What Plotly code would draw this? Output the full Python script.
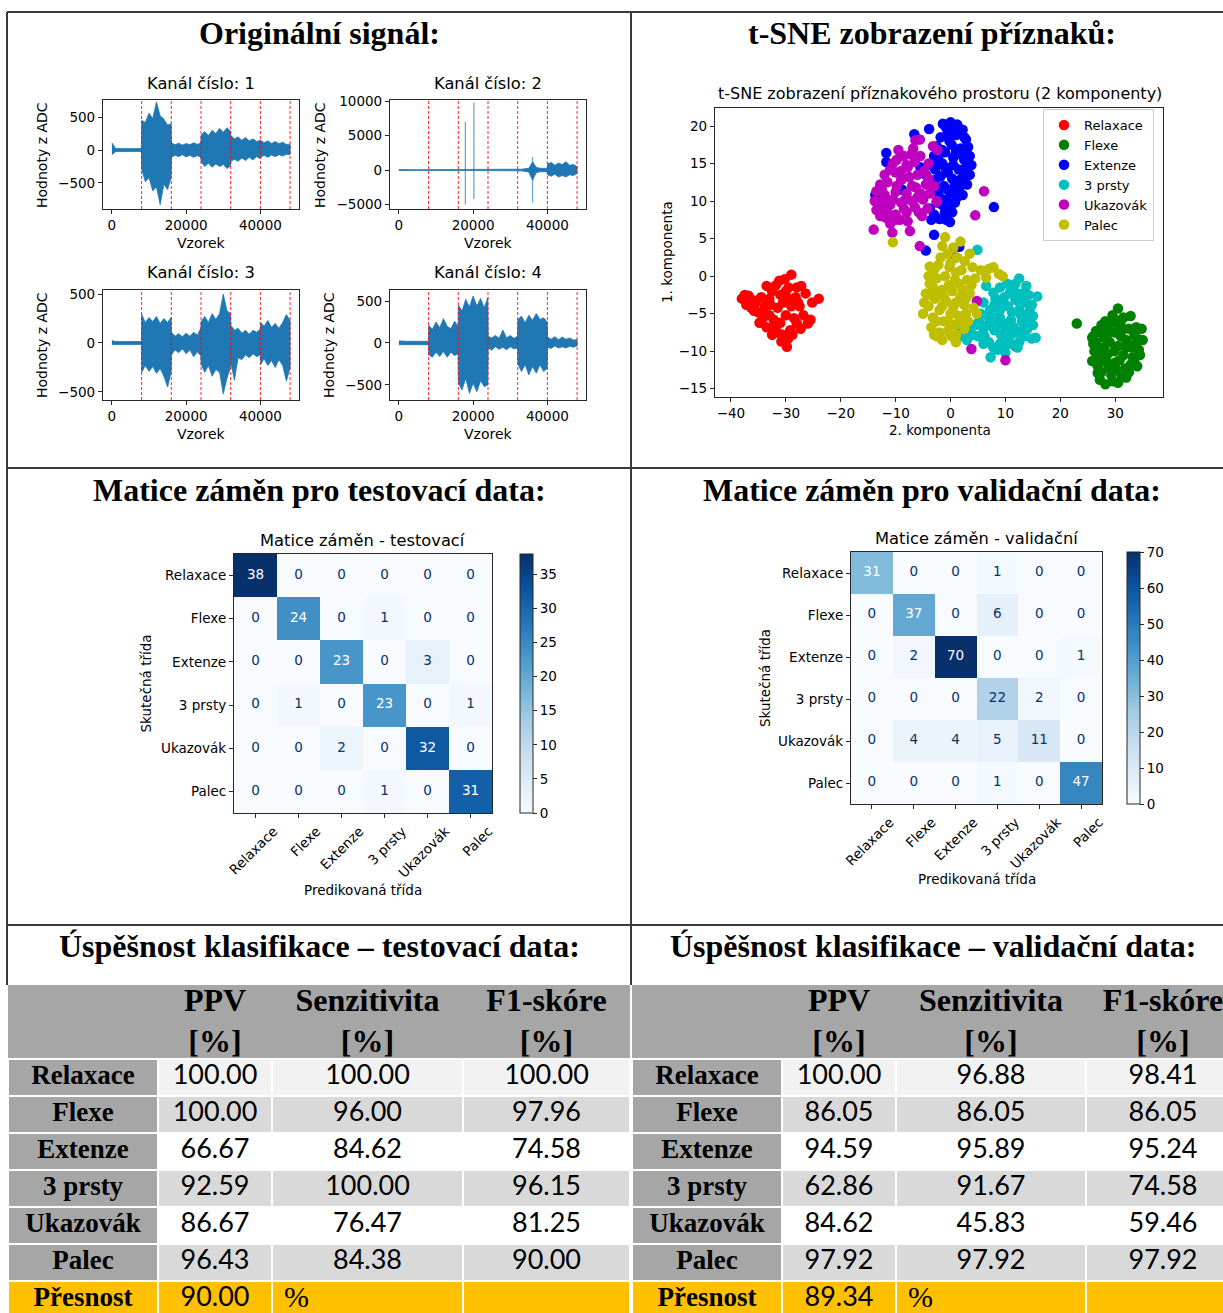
import plotly.graph_objects as go

W, H = 1223, 1313

# ------------------------------------------------------------------ DATA
sample_grid = [0, 1000, 2000, 3000, 4000, 5000, 6000, 7000, 7950, 8050,
               9000, 10000, 11000, 12000, 13000, 14000, 15000, 15950, 16050,
               17000, 18000, 19000, 20000, 21000, 22000, 23000, 23950, 24050,
               25000, 26000, 27000, 28000, 29000, 30000, 31000, 31950, 32050,
               33000, 34000, 35000, 36000, 37000, 38000, 39000, 39950, 40050,
               41000, 42000, 43000, 44000, 45000, 46000, 47000, 48000]

ch1_upper = [110, 25, 22, 20, 22, 20, 24, 22, 25,
             450, 420, 560, 480, 730, 520, 470, 380, 400,
             110, 80, 105, 75, 100, 80, 110, 85, 110,
             230, 280, 220, 300, 250, 330, 270, 340, 290,
             220, 170, 200, 150, 190, 140, 170, 130, 150,
             150, 110, 140, 100, 130, 95, 120, 85, 90]
ch1_lower = [-70, -25, -22, -20, -22, -24, -20, -22, -25,
             -300, -480, -420, -620, -560, -830, -520, -600, -420,
             -110, -80, -100, -70, -105, -80, -110, -85, -110,
             -180, -250, -200, -260, -210, -250, -220, -280, -240,
             -170, -140, -170, -120, -160, -110, -150, -100, -130,
             -110, -80, -110, -75, -100, -70, -90, -65, -70]

ch2_upper = [80, 50, 50, 50, 50, 50, 50, 50, 50,
             60, 60, 60, 60, 60, 60, 60, 60, 60,
             70, 70, 70, 70, 70, 70, 70, 70, 70,
             80, 80, 80, 80, 90, 90, 90, 100, 100,
             150, 120, 200, 250, 1200, 400, 250, 200, 250,
             900, 1100, 700, 1000, 800, 1200, 700, 800, 500]
ch2_lower = [-80, -50, -50, -50, -50, -50, -50, -50, -50,
             -60, -60, -60, -60, -60, -60, -60, -60, -60,
             -70, -70, -70, -70, -70, -70, -70, -70, -70,
             -80, -80, -80, -80, -90, -90, -90, -100, -100,
             -150, -120, -200, -300, -1500, -400, -250, -200, -250,
             -700, -900, -600, -1000, -800, -1000, -700, -800, -500]
ch2_spike_x = [17900, 20200, 36000]
ch2_spike_hi = [7000, 9800, 1900]
ch2_spike_lo = [-5000, -4200, -4700]

ch3_upper = [25, 15, 15, 15, 15, 15, 15, 15, 15,
             290, 210, 260, 220, 270, 200, 250, 210, 260,
             110, 70, 95, 65, 100, 70, 110, 80, 150,
             220, 270, 210, 300, 240, 300, 500, 330, 300,
             180, 130, 150, 100, 130, 90, 130, 110, 140,
             210, 170, 230, 160, 200, 150, 210, 290, 230]
ch3_lower = [-15, -15, -15, -15, -15, -15, -15, -15, -15,
             -300, -230, -290, -240, -310, -260, -340, -450, -300,
             -120, -70, -100, -60, -110, -70, -140, -90, -130,
             -220, -300, -230, -340, -270, -300, -520, -360, -250,
             -200, -380, -150, -170, -120, -150, -110, -140, -120,
             -220, -160, -230, -180, -250, -170, -230, -390, -250]

ch4_upper = [25, 20, 20, 20, 20, 20, 20, 20, 20,
             210, 160, 250, 180, 290, 200, 170, 260, 200,
             450, 380, 520, 430, 560, 440, 530, 420, 540,
             80, 60, 90, 55, 155, 60, 90, 55, 80,
             280, 320, 240, 330, 270, 350, 280, 300, 250,
             70, 45, 75, 40, 70, 45, 60, 35, 40]
ch4_lower = [-20, -20, -20, -20, -20, -20, -20, -20, -20,
             -140, -170, -110, -160, -100, -170, -110, -150, -130,
             -480, -560, -420, -600, -480, -580, -450, -520, -500,
             -60, -85, -45, -75, -50, -80, -45, -70, -60,
             -250, -340, -260, -380, -280, -360, -260, -340, -300,
             -50, -65, -35, -60, -45, -60, -40, -50, -35]

segment_bounds = [8000, 16000, 24000, 32000, 40000, 48000]
signal_xticks = [0, 20000, 40000]
ch_yticks = [[-500, 0, 500], [-5000, 0, 5000, 10000], [-500, 0, 500], [-500, 0, 500]]
ch_yranges = [[-895, 760], [-5650, 10150], [-582, 541], [-679, 631]]
signal_xrange = [-2400, 50400]

class_names = ['Relaxace', 'Flexe', 'Extenze', '3 prsty', 'Ukazovák', 'Palec']

tsne_relaxace_x = [-38.0, -37.5, -36.8, -37.2, -36.3, -35.5, -35.0, -34.2, -34.8, -33.5, -33.0, -33.8, -33.0,
                   -32.5, -31.8, -31.0, -30.2, -29.0, -29.5, -30.5, -31.5, -32.2, -31.0, -30.0, -29.0, -28.2,
                   -27.2, -26.4, -27.5, -26.8, -28.0, -27.3, -29.2, -30.6, -30.8, -29.8, -31.5, -32.5, -25.2,
                   -24.0, -25.5, -26.0, -28.5, -32.8, -34.5, -36.0, -29.5, -28.0, -31.2, -33.5, -29.6,
                   -34.0, -30.0, -27.8, -32.0, -28.8, -35.8]
tsne_relaxace_y = [-3.0, -2.5, -2.6, -3.8, -4.2, -3.5, -4.8, -5.6, -6.2, -6.8, -5.2, -4.0, -3.0,
                   -2.0, -1.2, -2.5, -0.4, 0.2, -1.5, -3.5, -4.2, -5.8, -6.2, -5.2, -4.0, -2.8,
                   -1.3, -2.3, -4.0, -5.2, -6.3, -7.0, -7.2, -7.8, -8.7, -9.4, -7.5, -7.8, -3.5,
                   -3.0, -5.8, -6.3, -5.6, -3.8, -2.8, -3.2, -3.0, -1.5, -0.6, -1.3, -8.3,
                   -5.0, -2.0, -3.5, -6.8, -7.8, -4.6]

tsne_flexe_x = [23.0, 25.8, 26.5, 27.5, 28.5, 29.5, 30.5, 31.5, 32.8, 33.8, 34.8, 34.0, 35.0, 34.3, 33.2,
                32.0, 31.0, 30.0, 29.0, 28.0, 27.0, 26.2, 25.8, 26.8, 27.6, 28.5, 29.8, 30.8, 31.8, 32.5,
                31.2, 30.5, 29.3, 28.2, 27.2, 26.8, 28.8, 30.2, 33.5, 32.5, 29.8, 34.5, 11.8, 27.3, 30.5,
                26.0, 27.0, 28.0, 29.0, 31.0, 32.0, 33.0, 34.0, 31.5, 30.0, 28.5, 27.5, 29.5, 31.0, 33.5,
                26.0, 28.2, 32.8, 27.0, 29.5, 32.0, 33.8, 30.0, 26.5]
tsne_flexe_y = [-6.3, -8.2, -7.3, -6.5, -6.8, -5.2, -4.3, -5.5, -5.3, -6.8, -7.0, -8.3, -8.5, -9.8, -10.8,
                -9.5, -8.0, -7.5, -8.8, -8.2, -9.5, -10.0, -11.3, -12.0, -11.0, -10.5, -10.0, -11.2, -12.3, -12.8,
                -13.5, -14.2, -13.2, -14.4, -13.8, -12.9, -12.2, -12.5, -11.5, -7.0, -6.2, -10.5, -9.3, -7.5, -9.3,
                -9.0, -10.5, -9.5, -7.5, -6.5, -8.5, -9.5, -12.0, -10.5, -11.5, -11.5, -12.8, -14.0, -7.5, -7.8,
                -8.0, -6.0, -11.8, -11.0, -12.0, -13.5, -8.8, -5.8, -8.8]

tsne_extenze_x = [0.0, 1.2, -1.4, 2.2, -3.9, -6.6, -0.5, 1.0, 2.8, -1.8, 3.2, -2.5, 0.2, 1.8, -1.0, 3.5,
                  2.5, 0.5, -2.2, -3.5, -1.0, 1.5, 3.8, 2.8, 0.3, -1.8, 3.0, 1.6, -0.5, -2.2, 1.2, -0.8,
                  0.8, -1.5, -3.8, -3.0, -2.0, -0.8, 0.3, -0.1, -3.5, -11.7, -11.7, 7.9, -3.0, -4.5, 1.6,
                  0.9, -13.7, -8.8, -5.5, -4.5, -0.2, 2.0, -1.5, 0.8, -2.8, 2.2, -1.2, 0.5, 3.5, -2.5,
                  1.0, -0.8, 2.5, -3.0, -2.0, 0.0, -1.5, 0.8, 2.6, -0.5, 1.9, -2.8, 0.2, -1.0]
tsne_extenze_y = [20.5, 20.2, 20.3, 19.5, 19.6, 18.9, 19.0, 18.8, 18.2, 18.5, 17.2, 17.3, 17.5, 17.0, 16.5, 16.0,
                  15.5, 15.8, 15.5, 14.8, 14.5, 14.2, 14.8, 13.3, 13.0, 13.3, 12.2, 11.8, 11.5, 11.2, 10.5, 10.2,
                  9.8, 9.5, 9.0, 8.2, 7.6, 7.5, 8.5, 7.2, 7.5, 16.4, 15.2, 9.2, 5.5, 3.4, 3.9,
                  2.5, 10.8, 11.5, 14.5, 13.5, 18.0, 16.2, 15.0, 12.2, 12.8, 10.8, 12.0, 14.8, 13.5, 9.8,
                  16.5, 19.8, 18.5, 16.0, 10.5, 9.0, 16.8, 19.5, 14.3, 13.8, 12.9, 14.2, 11.0, 8.5]

tsne_3prsty_x = [4.9, 12.5, 10.3, 9.0, 11.5, 13.8, 14.2, 15.8, 6.5, 7.8, 9.8, 12.0, 13.0, 14.8, 6.0, 8.0,
                 10.5, 12.5, 14.0, 15.0, 5.5, 7.0, 9.0, 11.0, 13.0, 4.5, 6.0, 8.0, 10.0, 12.0, 14.0, 3.0,
                 2.0, 5.0, 7.0, 9.0, 11.0, 12.5, 14.8, 15.5, 3.0, 6.0, 8.5, 10.0, 7.3, 13.5, 11.5, 9.5,
                 8.5, 2.0, 10.8, 12.8, 7.2, 5.2, 9.8, 11.2, 13.5, 8.2, 6.8, 10.5, 12.2, 4.0, 7.8, 13.2,
                 15.0, 14.5, 11.8, 9.2, 9.0, 11.8, 13.8, 8.0, 10.0, 6.2, 11.0]
tsne_3prsty_y = [3.5, -0.3, -1.0, -1.5, -1.8, -1.3, -2.5, -2.7, -1.3, -2.2, -2.8, -3.2, -2.3, -3.8, -3.5, -3.8,
                 -4.0, -4.5, -5.0, -5.3, -5.0, -5.5, -5.5, -5.8, -6.0, -6.5, -7.0, -7.2, -7.3, -7.5, -7.0, -7.2,
                 -6.8, -8.0, -8.8, -9.0, -9.0, -8.8, -8.3, -8.2, -8.5, -9.0, -9.8, -10.2, -10.8, -8.0, -6.8, -3.5,
                 -6.5, -8.0, -2.2, -5.2, -4.5, -6.0, -6.3, -4.8, -3.5, -3.0, -6.5, -8.2, -9.5, -7.8, -9.5, -7.2,
                 -6.5, -4.2, -1.0, -7.8, -4.5, -3.0, -6.0, -5.5, -9.2, -8.0, -7.8]

tsne_ukazovak_x = [-6.4, -5.6, -3.2, -2.4, -7.2, -8.5, -9.8, -5.5, -6.5, -8.0, -11.0, -10.0, -4.8, -6.0, -7.5,
                   -9.0, -11.5, -12.8, -13.5, -3.0, -4.5, -6.3, -8.0, -10.0, -12.0, -13.8, -2.5, -5.0, -7.0,
                   -9.0, -11.0, -12.5, -13.5, -5.8, -8.0, -10.0, -11.8, -12.8, -9.2, -7.8, -10.6, -7.4, -14.0,
                   -5.6, 6.1, 4.5, -5.2, 4.8, 3.8, 10.0, -2.5, -4.2, -6.8, -4.0, -9.0, -12.0, -7.0, -5.5,
                   -10.5, -8.5, -12.0, -6.5, -3.8, -9.5, -11.0, -13.0,
                   -10.5, -8.8, -12.5, -7.8, -6.0, -9.8, -11.5, -4.0, -8.2, -10.0]
tsne_ukazovak_y = [18.1, 18.2, 17.3, 16.8, 16.2, 16.0, 15.5, 16.0, 15.2, 14.8, 14.2, 13.8, 14.0, 13.5, 13.2,
                   12.8, 12.5, 12.2, 11.3, 12.0, 12.2, 11.8, 11.0, 11.2, 10.8, 10.0, 10.0, 10.2, 10.0,
                   9.8, 9.5, 9.0, 8.8, 8.5, 8.5, 8.2, 7.8, 8.0, 7.5, 7.3, 5.8, 6.0, 6.2,
                   4.0, 11.3, 8.1, 8.0, -3.3, -9.7, -11.2, 9.9, 9.0, 17.0, 15.0, 14.0, 13.5, 12.0, 11.0,
                   10.2, 9.0, 9.8, 9.2, 11.0, 16.8, 7.0, 9.8,
                   15.0, 13.0, 11.5, 14.5, 10.5, 12.0, 8.5, 13.0, 10.2, 7.5]

tsne_palec_x = [-1.0, 1.8, -10.5, -1.5, -0.5, 1.2, 3.5, 2.6, -3.8, -2.2, -0.2, 2.0, 4.0, 5.5, 7.0, 7.8,
                8.8, 9.5, 6.5, -4.0, -2.5, -1.0, 0.8, 3.0, 4.5, -3.2, -1.5, 0.3, 2.2, 3.5, -4.5, -2.8,
                -0.8, 1.0, 2.5, -4.0, -2.0, 0.0, 1.5, -3.2, -5.0, -1.2, 0.8, 2.0, -3.5, -2.0, -0.5,
                1.0, -1.5, 1.0, 4.8, 4.2, 2.5, -1.8, 0.5, -3.0, 1.5, -0.3, -2.0, 3.8, -4.8, -1.5,
                0.5, 2.8, -2.5, -0.2, 3.2, -3.0, 0.2, 1.8, -3.6, -3.8, 1.0, -1.2, 0.0, -2.5, 2.8]
tsne_palec_y = [5.2, 4.6, 4.5, 4.0, 3.0, 2.5, 3.0, 2.0, 1.3, 1.5, 1.2, 0.8, 1.2, 0.8, 1.0, 1.2,
                0.3, 0.0, -0.2, 0.0, -0.3, 0.0, -0.5, -0.5, -0.3, -1.5, -1.8, -2.0, -1.8, -2.3, -2.3, -3.0,
                -3.3, -3.5, -3.8, -4.0, -4.5, -5.0, -5.3, -5.5, -5.0, -6.0, -6.5, -6.2, -6.8, -7.5, -7.3,
                -7.8, -8.5, -8.8, -5.0, -4.2, -7.0, 2.5, 3.8, 0.8, -1.0, -1.2, -2.2, -1.2, -3.5, -4.0,
                -4.2, -5.0, -6.0, -6.2, -6.0, -7.8, -8.0, -2.8, -2.5, -1.0, 0.5, -2.8, 1.8, -8.0, -3.0]

tsne_series = [
    ('Relaxace', tsne_relaxace_x, tsne_relaxace_y),
    ('Flexe', tsne_flexe_x, tsne_flexe_y),
    ('Extenze', tsne_extenze_x, tsne_extenze_y),
    ('3 prsty', tsne_3prsty_x, tsne_3prsty_y),
    ('Ukazovák', tsne_ukazovak_x, tsne_ukazovak_y),
    ('Palec', tsne_palec_x, tsne_palec_y),
]
tsne_colors = ['#ff0000', '#008000', '#0000ff', '#00bfbf', '#bf00bf', '#bfbf00']
tsne_xticks = [-40, -30, -20, -10, 0, 10, 20, 30]
tsne_yticks = [-15, -10, -5, 0, 5, 10, 15, 20]

cm_test = [[38, 0, 0, 0, 0, 0],
           [0, 24, 0, 1, 0, 0],
           [0, 0, 23, 0, 3, 0],
           [0, 1, 0, 23, 0, 1],
           [0, 0, 2, 0, 32, 0],
           [0, 0, 0, 1, 0, 31]]
cm_val = [[31, 0, 0, 1, 0, 0],
          [0, 37, 0, 6, 0, 0],
          [0, 2, 70, 0, 0, 1],
          [0, 0, 0, 22, 2, 0],
          [0, 4, 4, 5, 11, 0],
          [0, 0, 0, 1, 0, 47]]
cbar_test_ticks = [0, 5, 10, 15, 20, 25, 30, 35]
cbar_val_ticks = [0, 10, 20, 30, 40, 50, 60, 70]

table_rows = ['Relaxace', 'Flexe', 'Extenze', '3 prsty', 'Ukazovák', 'Palec', 'Přesnost']
table_header = ['PPV<br>[%]', 'Senzitivita<br>[%]', 'F1-skóre<br>[%]']
accuracy_unit = '%'
test_ppv = ['100.00', '100.00', '66.67', '92.59', '86.67', '96.43']
test_sens = ['100.00', '96.00', '84.62', '100.00', '76.47', '84.38']
test_f1 = ['100.00', '97.96', '74.58', '96.15', '81.25', '90.00']
test_accuracy = '90.00'
val_ppv = ['100.00', '86.05', '94.59', '62.86', '84.62', '97.92']
val_sens = ['96.88', '86.05', '95.89', '91.67', '45.83', '97.92']
val_f1 = ['98.41', '86.05', '95.24', '74.58', '59.46', '97.92']
val_accuracy = '89.34'

# ------------------------------------------------------------------ STYLE / HELPERS
BLUE = '#1f77b4'
SANS = 'DejaVu Sans'
SERIF = 'Liberation Serif'
NUMF = 'Lato'
BLUES = [[0.0, '#f7fbff'], [0.125, '#deebf7'], [0.25, '#c6dbef'], [0.375, '#9ecae1'],
         [0.5, '#6baed6'], [0.625, '#4292c6'], [0.75, '#2171b5'], [0.875, '#08519c'], [1.0, '#08306b']]


def dx(x0, x1):
    return [x0 / W, x1 / W]


def dy(y0, y1):
    return [1 - y1 / H, 1 - y0 / H]


def axname(i):
    return '' if i == 1 else str(i)


fig = go.Figure()
annotations = []
shapes = []


def ann(text, xp, yp, size, family=SANS, angle=0, bold=False):
    annotations.append(dict(text=('<b>%s</b>' % text) if bold else text,
                            x=xp / W, y=1 - yp / H, xref='paper', yref='paper',
                            xanchor='center', yanchor='middle', showarrow=False,
                            textangle=angle, font=dict(family=family, size=size, color='black')))


axis_common = dict(showline=True, mirror=True, linecolor='#262626', linewidth=1.2,
                   ticks='outside', ticklen=4, tickwidth=1, tickcolor='#262626',
                   showgrid=False, zeroline=False, automargin=False, fixedrange=True,
                   tickfont=dict(family=SANS, size=13.5, color='black'))

layout_axes = {}

# ------------------------------------------------------------------ SIGNALS
sig_boxes = [(103, 100, 299, 209), (390, 100, 586, 209), (103, 290, 299, 400), (390, 290, 586, 400)]
channels = [(ch1_upper, ch1_lower), (ch2_upper, ch2_lower), (ch3_upper, ch3_lower), (ch4_upper, ch4_lower)]
for k, ((up, lo), box) in enumerate(zip(channels, sig_boxes)):
    i = k + 1
    a = axname(i)
    fig.add_trace(go.Scatter(x=sample_grid + sample_grid[::-1], y=up + lo[::-1], mode='lines',
                             fill='toself', fillcolor=BLUE, line=dict(color=BLUE, width=0.8),
                             xaxis='x' + a, yaxis='y' + a, showlegend=False, hoverinfo='skip'))
    if i == 2:
        sx, sy = [], []
        for x, hi, lo_ in zip(ch2_spike_x, ch2_spike_hi, ch2_spike_lo):
            sx += [x, x, None]
            sy += [lo_, hi, None]
        fig.add_trace(go.Scatter(x=sx, y=sy, mode='lines', line=dict(color='rgba(31,119,180,0.65)', width=1.3),
                                 xaxis='x' + a, yaxis='y' + a, showlegend=False, hoverinfo='skip'))
    for b in segment_bounds:
        shapes.append(dict(type='line', xref='x' + a, yref='y' + a + ' domain', x0=b, x1=b, y0=0, y1=1,
                           line=dict(color='red', width=1, dash='3px,2px'), opacity=0.85))
    x0, y0, x1, y1 = box
    layout_axes['xaxis' + a] = dict(axis_common, domain=dx(x0, x1), anchor='y' + a, range=signal_xrange,
                                    tickvals=signal_xticks, tickformat='d')
    layout_axes['yaxis' + a] = dict(axis_common, domain=dy(y0, y1), anchor='x' + a, range=ch_yranges[k],
                                    tickvals=ch_yticks[k], tickformat='d')
    cx = (x0 + x1) / 2
    ann('Kanál číslo: %d' % i, cx, y0 - 17, 16.3)
    ann('Vzorek', cx, y1 + 34, 14)

ann('Hodnoty z ADC', 42, 155, 14, angle=-90)
ann('Hodnoty z ADC', 320, 155, 14, angle=-90)
ann('Hodnoty z ADC', 42, 345, 14, angle=-90)
ann('Hodnoty z ADC', 329, 345, 14, angle=-90)

# ------------------------------------------------------------------ t-SNE
for (name, xs, ys), col in zip(tsne_series, tsne_colors):
    fig.add_trace(go.Scatter(x=xs, y=ys, mode='markers', name=name,
                             marker=dict(color=col, size=10.5, line=dict(width=0)),
                             xaxis='x5', yaxis='y5', hoverinfo='skip'))
layout_axes['xaxis5'] = dict(axis_common, domain=dx(715, 1163), anchor='y5', range=[-42.9, 38.7],
                             tickvals=tsne_xticks)
layout_axes['yaxis5'] = dict(axis_common, domain=dy(108, 397), anchor='x5', range=[-16.1, 22.4],
                             tickvals=tsne_yticks)
ann('t-SNE zobrazení příznakového prostoru (2 komponenty)', 940, 94, 16)
ann('2. komponenta', 940, 430, 13.5)
ann('1. komponenta', 667, 252, 13.5, angle=-90)

# ------------------------------------------------------------------ CONFUSION MATRICES
cm_specs = [
    (cm_test, cbar_test_ticks, (234, 554, 492, 813), 520, 6, 'Matice záměn - testovací', 540, 890, 145),
    (cm_val, cbar_val_ticks, (851, 552, 1102, 804), 1127, 7, 'Matice záměn - validační', 539, 879, 765),
]
for cm, cticks, box, cbx, i, title, ty, py, sy in cm_specs:
    a = str(i)
    x0, y0, x1, y1 = box
    flat = [v for row in cm for v in row]
    zmin, zmax = min(flat), max(flat)
    fig.add_trace(go.Heatmap(z=cm, x=class_names, y=class_names, colorscale=BLUES, zmin=zmin, zmax=zmax,
                             xaxis='x' + a, yaxis='y' + a, hoverinfo='skip',
                             colorbar=dict(x=cbx / W, xanchor='left', y=1 - (y0 + y1) / 2 / H,
                                           yanchor='middle', len=(y1 - y0) / H, lenmode='fraction',
                                           thickness=13, thicknessmode='pixels', xpad=0, ypad=0,
                                           outlinewidth=1, outlinecolor='#262626', ticks='outside',
                                           ticklen=4, tickcolor='#262626', tickvals=cticks,
                                           tickfont=dict(family=SANS, size=13.5, color='black'))))
    tx, tyv, tt, tc = [], [], [], []
    for r, row in enumerate(cm):
        for c, v in enumerate(row):
            tx.append(class_names[c])
            tyv.append(class_names[r])
            tt.append(str(v))
            tc.append('white' if v > 22 else '#08306b')
    fig.add_trace(go.Scatter(x=tx, y=tyv, mode='text', text=tt, textposition='middle center',
                             textfont=dict(family=SANS, size=13.5, color=tc),
                             xaxis='x' + a, yaxis='y' + a, showlegend=False, hoverinfo='skip'))
    layout_axes['xaxis' + a] = dict(axis_common, domain=dx(x0, x1), anchor='y' + a, type='category',
                                    categoryorder='array', categoryarray=class_names, range=[-0.5, 5.5],
                                    tickangle=-45, ticklabelshift=18)
    layout_axes['yaxis' + a] = dict(axis_common, domain=dy(y0, y1), anchor='x' + a, type='category',
                                    categoryorder='array', categoryarray=class_names, range=[5.5, -0.5])
    cx = (x0 + x1) / 2
    ann(title, cx, ty, 16.3)
    ann('Predikovaná třída', cx, py, 13.5)
    ann('Skutečná třída', sy, (y0 + y1) / 2, 13.5, angle=-90)

# ------------------------------------------------------------------ TABLES (cells drawn as heatmap bricks)
fill_palette = [[0.0, '#a6a6a6'], [0.25, '#f2f2f2'], [0.5, '#d9d9d9'], [0.75, '#ffffff'], [1.0, '#ffc000']]
row_fill_idx = [1, 2, 3, 2, 3, 2, 4]
label_fill_idx = [0, 0, 0, 0, 0, 0, 4]
header_edges = [0, 73]
body_edges = [74, 111, 148, 185, 222, 259, 296, 333]
table_specs = [
    (8, (8, 985, 630, 1313), [0, 150, 264, 455, 622], test_ppv, test_sens, test_f1, test_accuracy),
    (9, (632, 985, 1223, 1313), [0, 150, 264, 454, 608], val_ppv, val_sens, val_f1, val_accuracy),
]
for i, (x0, y0, x1, y1), cedges, ppv, sens, f1, acc in table_specs:
    a = str(i)
    ncol = len(cedges) - 1
    fig.add_trace(go.Heatmap(z=[[0] * ncol], x=cedges, y=header_edges, colorscale=fill_palette,
                             zmin=0, zmax=4, showscale=False, hoverinfo='skip',
                             xaxis='x' + a, yaxis='y' + a))
    body_z = [[label_fill_idx[r]] + [row_fill_idx[r]] * (ncol - 1) for r in range(len(table_rows))]
    fig.add_trace(go.Heatmap(z=body_z, x=cedges, y=body_edges, colorscale=fill_palette,
                             zmin=0, zmax=4, showscale=False, hoverinfo='skip', xgap=2, ygap=2,
                             xaxis='x' + a, yaxis='y' + a))
    ccent = [(cedges[c] + cedges[c + 1]) / 2 for c in range(ncol)]
    rcent = [(body_edges[r] + body_edges[r + 1]) / 2 for r in range(len(table_rows))]
    hcent = (header_edges[0] + header_edges[1]) / 2 + 2
    # header texts
    fig.add_trace(go.Scatter(x=ccent[1:], y=[hcent] * 3, mode='text',
                             text=['<b>%s</b>' % h for h in table_header], textposition='middle center',
                             textfont=dict(family=SERIF, size=32, color='black'),
                             xaxis='x' + a, yaxis='y' + a, showlegend=False, hoverinfo='skip'))
    # row labels
    fig.add_trace(go.Scatter(x=[ccent[0]] * len(table_rows), y=rcent, mode='text',
                             text=['<b>%s</b>' % r for r in table_rows], textposition='middle center',
                             textfont=dict(family=SERIF, size=27, color='black'),
                             xaxis='x' + a, yaxis='y' + a, showlegend=False, hoverinfo='skip'))
    # values
    vx, vy, vt = [], [], []
    for c, col in enumerate([ppv, sens, f1]):
        for r, v in enumerate(col):
            vx.append(ccent[c + 1])
            vy.append(rcent[r])
            vt.append(v)
    vx.append(ccent[1])
    vy.append(rcent[6])
    vt.append(acc)
    fig.add_trace(go.Scatter(x=vx, y=vy, mode='text', text=vt, textposition='middle center',
                             textfont=dict(family=NUMF, size=27, color='black'),
                             xaxis='x' + a, yaxis='y' + a, showlegend=False, hoverinfo='skip'))
    fig.add_trace(go.Scatter(x=[cedges[2] + 12], y=[rcent[6]], mode='text', text=[accuracy_unit],
                             textposition='middle right',
                             textfont=dict(family=SERIF, size=30, color='black'),
                             xaxis='x' + a, yaxis='y' + a, showlegend=False, hoverinfo='skip'))
    layout_axes['xaxis' + a] = dict(domain=dx(x0, x1), anchor='y' + a, range=[0, x1 - x0], visible=False,
                                    fixedrange=True)
    layout_axes['yaxis' + a] = dict(domain=dy(y0, y1), anchor='x' + a, range=[y1 - y0, 0], visible=False,
                                    fixedrange=True)

# ------------------------------------------------------------------ SECTION TITLES / FRAME
ann('Originální signál:', 319, 33, 32, family=SERIF, bold=True)
ann('t-SNE zobrazení příznaků:', 932, 33, 32, family=SERIF, bold=True)
ann('Matice záměn pro testovací data:', 319, 490, 32, family=SERIF, bold=True)
ann('Matice záměn pro validační data:', 932, 490, 32, family=SERIF, bold=True)
ann('Úspěšnost klasifikace – testovací data:', 319, 946, 32, family=SERIF, bold=True)
ann('Úspěšnost klasifikace – validační data:', 933, 946, 32, family=SERIF, bold=True)

frame = dict(color='#3a3a3a', width=2)
for (xa, ya, xb, yb) in [(7, 12, 1223, 12), (7, 468, 1223, 468), (7, 925, 1223, 925),
                         (7, 12, 7, 985), (631, 12, 631, 985)]:
    shapes.append(dict(type='line', xref='paper', yref='paper', x0=xa / W, x1=xb / W,
                       y0=1 - ya / H, y1=1 - yb / H, line=frame))

fig.update_layout(
    width=W, height=H, margin=dict(l=0, r=0, t=0, b=0),
    paper_bgcolor='white', plot_bgcolor='white',
    annotations=annotations, shapes=shapes,
    legend=dict(x=1043 / W, y=1 - 109 / H, xanchor='left', yanchor='top', bgcolor='white',
                bordercolor='#cccccc', borderwidth=1, font=dict(family=SANS, size=13, color='black'),
                tracegroupgap=0),
    **layout_axes
)

fig.write_html('out.html')
